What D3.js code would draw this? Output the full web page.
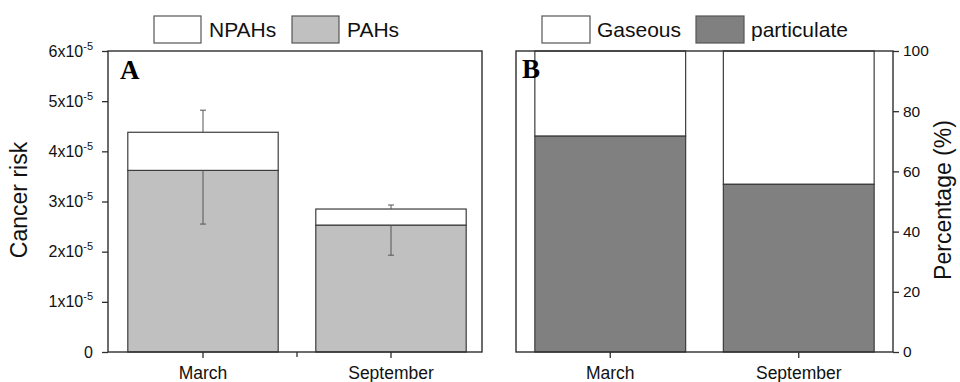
<!DOCTYPE html>
<html lang="en">
<head>
    <meta charset="utf-8">
    <title>Cancer risk</title>
    <script src="https://d3js.org/d3.v7.min.js"></script>
    <style type="text/css">
        body { margin: 0; background: #fff; }
        svg { font-family: Arial, "Liberation Sans", sans-serif; }
    </style>
</head>
<body>
    <div id="chart"></div>
    <script>
        // data
        var months = ["March", "September"];
        var pahs = [3.62e-5, 2.53e-5];
        var npahs = [0.76e-5, 0.32e-5];
        var pahsErr = [1.07e-5, 0.60e-5];
        var npahsErr = [0.44e-5, 0.08e-5];
        var particulate = [71.7, 55.7];
        var gaseous = [28.3, 44.3];
        var riskTicks = [0, 1e-5, 2e-5, 3e-5, 4e-5, 5e-5, 6e-5];
        var pctTicks = [0, 20, 40, 60, 80, 100];

        var width = 960, height = 382;
        var plotTop = 51, plotBottom = 352;
        var lineCol = "#2e2e2e", barStroke = "#3c3c3c";
        var font = "Arial, 'Liberation Sans', sans-serif";

        var svg = d3.select("#chart").append("svg")
            .attr("width", width)
            .attr("height", height);

        //scales
        var xA = d3.scaleBand().domain(months).range([109, 485]).paddingInner(0.2).paddingOuter(0.1);
        var yA = d3.scaleLinear().domain([0, 6e-5]).range([plotBottom, plotTop]);
        var xB = d3.scaleBand().domain(months).range([516, 893]).paddingInner(0.2).paddingOuter(0.1);
        var yB = d3.scaleLinear().domain([0, 100]).range([plotBottom, plotTop]);

        // ---- panel A ----
        var gA = svg.append("g");
        gA.selectAll(".pah")
            .data(months)
            .enter()
            .append("rect")
            .attr("x", d => xA(d))
            .attr("width", xA.bandwidth())
            .attr("y", (d, i) => yA(pahs[i]))
            .attr("height", (d, i) => yA(0) - yA(pahs[i]))
            .attr("fill", "#c0c0c0")
            .attr("stroke", barStroke)
            .attr("stroke-width", 1.2);

        gA.selectAll(".npah")
            .data(months)
            .enter()
            .append("rect")
            .attr("x", d => xA(d))
            .attr("width", xA.bandwidth())
            .attr("y", (d, i) => yA(pahs[i] + npahs[i]))
            .attr("height", (d, i) => yA(pahs[i]) - yA(pahs[i] + npahs[i]))
            .attr("fill", "#fff")
            .attr("stroke", barStroke)
            .attr("stroke-width", 1.2);

        // error bars: PAHs downward, total upward
        months.forEach(function (m, i) {
            var cx = xA(m) + xA.bandwidth() / 2;
            var y0 = yA(pahs[i]), y1 = yA(pahs[i] - pahsErr[i]);
            var t0 = yA(pahs[i] + npahs[i]), t1 = yA(pahs[i] + npahs[i] + npahsErr[i]);
            gA.append("line").attr("x1", cx).attr("x2", cx).attr("y1", y0).attr("y2", y1).attr("stroke", "#555");
            gA.append("line").attr("x1", cx - 3).attr("x2", cx + 3).attr("y1", y1).attr("y2", y1).attr("stroke", "#555");
            gA.append("line").attr("x1", cx).attr("x2", cx).attr("y1", t0).attr("y2", t1).attr("stroke", "#555");
            gA.append("line").attr("x1", cx - 3).attr("x2", cx + 3).attr("y1", t1).attr("y2", t1).attr("stroke", "#555");
        });

        gA.append("rect")
            .attr("x", 108).attr("y", plotTop)
            .attr("width", 482 - 108).attr("height", plotBottom - plotTop)
            .attr("fill", "none").attr("stroke", lineCol).attr("stroke-width", 1.4);

        var axA = gA.append("g")
            .attr("transform", "translate(108,0)")
            .call(d3.axisLeft(yA).tickValues(riskTicks).tickSize(6).tickPadding(9).tickFormat(d => d === 0 ? "0" : ""));
        axA.attr("font-family", font);
        axA.select(".domain").remove();
        axA.selectAll(".tick line").attr("stroke", lineCol).attr("stroke-width", 1.3);
        axA.selectAll(".tick text")
            .attr("font-size", 16)
            .attr("fill", "#111")
            .each(function (d) {
                if (d === 0) return;
                var t = d3.select(this);
                t.append("tspan").text(Math.round(d * 1e5) + "x10");
                t.append("tspan").attr("dy", -7).attr("font-size", 11).text("-5");
            });

        var axAx = gA.append("g")
            .attr("transform", "translate(0," + plotBottom + ")")
            .call(d3.axisBottom(xA).tickSize(6).tickPadding(9));
        axAx.attr("font-family", font);
        axAx.select(".domain").remove();
        axAx.selectAll(".tick line").attr("stroke", lineCol).attr("stroke-width", 1.3);
        axAx.selectAll(".tick text").attr("font-size", 17.5).attr("fill", "#111");
        var boundA = (xA(months[0]) + xA.bandwidth() + xA(months[1])) / 2;
        gA.append("line").attr("x1", boundA).attr("x2", boundA).attr("y1", plotBottom).attr("y2", plotBottom + 5)
            .attr("stroke", lineCol).attr("stroke-width", 1.3);

        gA.append("text")
            .attr("transform", "translate(27,200) rotate(-90)")
            .attr("text-anchor", "middle")
            .attr("font-size", 23)
            .attr("fill", "#111")
            .text("Cancer risk");

        gA.append("text")
            .attr("x", 120).attr("y", 79)
            .attr("font-family", "'Liberation Serif', 'Times New Roman', serif")
            .attr("font-weight", "bold")
            .attr("font-size", 27)
            .text("A");

        // legend A
        var legA = [{ name: "NPAHs", fill: "#fff", x: 154 }, { name: "PAHs", fill: "#c0c0c0", x: 292 }];
        legA.forEach(function (l) {
            svg.append("rect").attr("x", l.x).attr("y", 16).attr("width", 47).attr("height", 27)
                .attr("fill", l.fill).attr("stroke", "#555").attr("stroke-width", 1.2);
            svg.append("text").attr("x", l.x + 55).attr("y", 37).attr("font-size", 21).attr("fill", "#111").text(l.name);
        });

        // ---- panel B ----
        var gB = svg.append("g");
        gB.selectAll(".gas")
            .data(months)
            .enter()
            .append("rect")
            .attr("x", d => xB(d))
            .attr("width", xB.bandwidth())
            .attr("y", (d, i) => yB(particulate[i] + gaseous[i]))
            .attr("height", (d, i) => yB(particulate[i]) - yB(particulate[i] + gaseous[i]))
            .attr("fill", "#fff")
            .attr("stroke", barStroke)
            .attr("stroke-width", 1.2);

        gB.selectAll(".part")
            .data(months)
            .enter()
            .append("rect")
            .attr("x", d => xB(d))
            .attr("width", xB.bandwidth())
            .attr("y", (d, i) => yB(particulate[i]))
            .attr("height", (d, i) => yB(0) - yB(particulate[i]))
            .attr("fill", "#808080")
            .attr("stroke", barStroke)
            .attr("stroke-width", 1.2);

        gB.append("rect")
            .attr("x", 516).attr("y", plotTop)
            .attr("width", 893 - 516).attr("height", plotBottom - plotTop)
            .attr("fill", "none").attr("stroke", lineCol).attr("stroke-width", 1.4);

        var axB = gB.append("g")
            .attr("transform", "translate(893,0)")
            .call(d3.axisRight(yB).tickValues(pctTicks).tickSize(6).tickPadding(4));
        axB.attr("font-family", font);
        axB.select(".domain").remove();
        axB.selectAll(".tick line").attr("stroke", lineCol).attr("stroke-width", 1.3);
        axB.selectAll(".tick text").attr("font-size", 15.5).attr("fill", "#111");

        var axBx = gB.append("g")
            .attr("transform", "translate(0," + plotBottom + ")")
            .call(d3.axisBottom(xB).tickSize(6).tickPadding(9));
        axBx.attr("font-family", font);
        axBx.select(".domain").remove();
        axBx.selectAll(".tick line").attr("stroke", lineCol).attr("stroke-width", 1.3);
        axBx.selectAll(".tick text").attr("font-size", 17.5).attr("fill", "#111");

        gB.append("text")
            .attr("transform", "translate(951,200) rotate(-90)")
            .attr("text-anchor", "middle")
            .attr("font-size", 23)
            .attr("fill", "#111")
            .text("Percentage (%)");

        gB.append("text")
            .attr("x", 522).attr("y", 78)
            .attr("font-family", "'Liberation Serif', 'Times New Roman', serif")
            .attr("font-weight", "bold")
            .attr("font-size", 27)
            .text("B");

        var legB = [{ name: "Gaseous", fill: "#fff", x: 542 }, { name: "particulate", fill: "#808080", x: 696 }];
        legB.forEach(function (l) {
            svg.append("rect").attr("x", l.x).attr("y", 16).attr("width", 48).attr("height", 27)
                .attr("fill", l.fill).attr("stroke", "#555").attr("stroke-width", 1.2);
            svg.append("text").attr("x", l.x + 55).attr("y", 37).attr("font-size", 21).attr("fill", "#111").text(l.name);
        });
    </script>
</body>
</html>
